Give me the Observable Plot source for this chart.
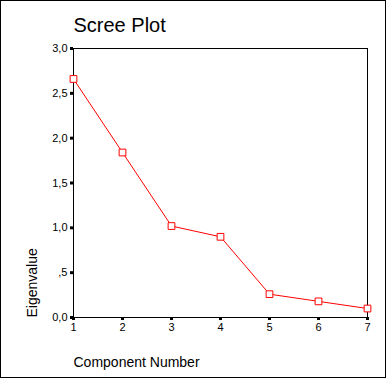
<!DOCTYPE html>
<html>
<head>
<meta charset="utf-8">
<script src="https://cdn.jsdelivr.net/npm/d3@7"></script>
<script src="https://cdn.jsdelivr.net/npm/@observablehq/plot@0.6"></script>
<style>
  html, body { margin: 0; padding: 0; background: #fff; }
  #wrap { position: relative; width: 387px; height: 379px; }
  #border { position: absolute; left: 0; top: 0; width: 386px; height: 378px; border: 1px solid #000; box-sizing: border-box; pointer-events: none; }
  #chart { position: absolute; left: 0; top: 0; }
</style>
</head>
<body>
<div id="wrap"><div id="chart"></div><div id="border"></div></div>
<script>
const components = [1, 2, 3, 4, 5, 6, 7];
const eigenvalues = [2.66, 1.84, 1.02, 0.90, 0.26, 0.18, 0.10];
const yTicks = [0, 0.5, 1, 1.5, 2, 2.5, 3];
const yTickLabels = ["0,0", ",5", "1,0", "1,5", "2,0", "2,5", "3,0"];
const xTicks = [1, 2, 3, 4, 5, 6, 7];
const titleText = "Scree Plot";
const xLabel = "Component Number";
const yLabel = "Eigenvalue";

const data = components.map((c, i) => ({c, v: eigenvalues[i]}));

const plot = Plot.plot({
  width: 387,
  height: 379,
  marginLeft: 73,
  marginRight: 20,
  marginTop: 48,
  marginBottom: 62,
  style: {fontFamily: "'Liberation Sans', Arial, sans-serif", fontSize: "11px", background: "transparent", color: "#000", overflow: "visible"},
  x: {domain: [1, 7]},
  y: {domain: [0, 3]},
  marks: [
    Plot.frame({stroke: "#000", strokeWidth: 1}),
    Plot.axisX({ticks: xTicks, tickFormat: d => String(d), tickSize: 3, tickPadding: 3, strokeWidth: 3, label: null, fontSize: 11}),
    Plot.axisY({ticks: yTicks, tickFormat: d => yTickLabels[yTicks.indexOf(d)], tickSize: 3, tickPadding: 3, strokeWidth: 3, label: null, fontSize: 11}),
    Plot.line(data, {x: "c", y: "v", stroke: "#ff0000", strokeWidth: 1}),
    Plot.dot(data, {x: "c", y: "v", symbol: "square", r: 3.8, stroke: "#ff0000", fill: "#fff", strokeWidth: 1}),
    Plot.text([titleText], {frameAnchor: "top-left", text: d => d, textAnchor: "start", lineAnchor: "bottom", dy: -17, fontSize: 20}),
    Plot.text([xLabel], {frameAnchor: "bottom-left", text: d => d, textAnchor: "start", lineAnchor: "bottom", dy: 49, fontSize: 14}),
    Plot.text([yLabel], {frameAnchor: "bottom-left", text: d => d, textAnchor: "start", lineAnchor: "bottom", rotate: -90, dx: -37, fontSize: 14})
  ]
});
document.getElementById("chart").appendChild(plot);
</script>
</body>
</html>
